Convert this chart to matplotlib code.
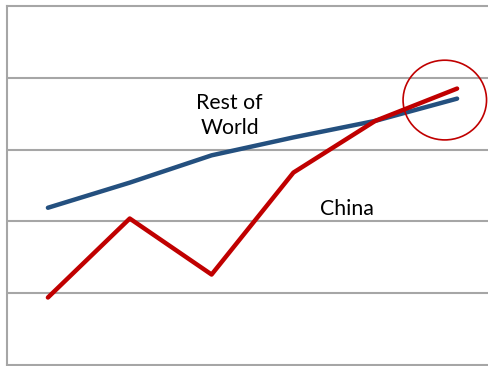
import matplotlib.pyplot as plt
from matplotlib.patches import Ellipse

years = [0, 1, 2, 3, 4, 5]
china = [0.94, 2.04, 1.26, 2.68, 3.40, 3.85]
rest_of_world = [2.19, 2.54, 2.92, 3.17, 3.40, 3.71]

grid_color = '#a6a6a6'
red = '#c00000'
blue = '#24507f'

fig = plt.figure(figsize=(4.88, 3.66), dpi=100)
ax = fig.add_axes([7 / 488, 1 / 366, 491 / 488, 359 / 366])

ax.plot(years, rest_of_world, color=blue, linewidth=3.2, solid_capstyle='round', zorder=3)
ax.plot(years, china, color=red, linewidth=3.2, solid_capstyle='round', zorder=4)

ax.set_xlim(-0.5, 5.5)
ax.set_ylim(0, 5)
ax.set_yticks([1, 2, 3, 4])
ax.set_xticks([])
ax.tick_params(left=False, labelleft=False)
ax.grid(axis='y', color=grid_color, linewidth=1.5)
ax.set_axisbelow(True)
for side in ['left', 'bottom', 'top', 'right']:
    ax.spines[side].set_color(grid_color)
    ax.spines[side].set_linewidth(1.5)

ax.text(2.22, 3.47, 'Rest of\nWorld', ha='center', va='center', fontsize=15.3,
        family='Lato', linespacing=1.3)
ax.text(3.65, 2.17, 'China', ha='center', va='center', fontsize=15.3, family='Lato')

ax.add_patch(Ellipse((4.85, 3.69), 1.02, 1.11, fill=False, edgecolor=red,
                     linewidth=1.2, zorder=5, clip_on=False))

fig.savefig('out.png', dpi=100)
